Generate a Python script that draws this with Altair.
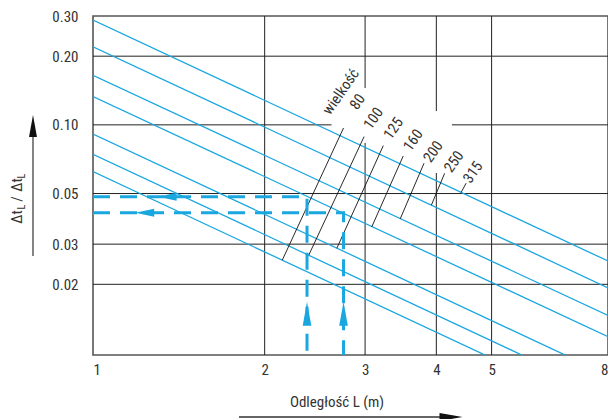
import altair as alt
import pandas as pd

FONT = "Liberation Sans Narrow, Roboto Condensed, Liberation Sans, sans-serif"
CYAN = "#1aa7e0"
TXT = "#333333"

# ---- data ----
sizes = ["315", "250", "200", "160", "125", "100", "80"]
ratio_at_1m = [0.288, 0.220, 0.165, 0.133, 0.0912, 0.0743, 0.0624]
ratio_at_8m = [0.0253, 0.0193, 0.0146, 0.0118, 0.0080, 0.00652, 0.00548]
dist_ends = [1, 8]

x_ticks = [1, 2, 3, 4, 5, 8]
y_ticks = [0.02, 0.03, 0.05, 0.1, 0.2, 0.3]

label_x = [4.634, 4.293, 3.947, 3.642, 3.361, 3.101, 2.909]
label_y = [0.0620, 0.0690, 0.0763, 0.0858, 0.0966, 0.1069, 0.1263]
leader_x1 = [4.511, 4.136, 3.806, 3.499, 3.229, 2.988, 2.750]
leader_y1 = [0.0555, 0.0613, 0.0679, 0.0730, 0.0811, 0.0888, 0.0969]
leader_x2 = [4.422, 3.921, 3.457, 3.082, 2.677, 2.389, 2.147]
leader_y2 = [0.0506, 0.0445, 0.0387, 0.0357, 0.0288, 0.0268, 0.0255]

title_word = "wielkość"
title_word_x = 2.72
title_word_y = 0.1398

# gridlines (with the gaps around the size labels)
h_grid_y = [0.02, 0.03, 0.05, 0.1, 0.1, 0.2]
h_grid_x1 = [1, 1, 1, 1, 4.26, 1]
h_grid_x2 = [8, 8, 8, 2.62, 8, 8]
v_grid_x = [2, 3, 3, 4, 4, 5]
v_grid_y1 = [0.0098, 0.0098, 0.145, 0.0098, 0.1149, 0.0098]
v_grid_y2 = [0.3, 0.0833, 0.3, 0.0615, 0.3, 0.3]

# dashed reading example
ex_names = ["a", "a", "a", "b", "b", "b"]
ex_order = [0, 1, 2, 0, 1, 2]
ex_x = [1, 2.373, 2.373, 1, 2.75, 2.75]
ex_y = [0.0484, 0.0484, 0.0098, 0.0412, 0.0412, 0.0098]
left_arrow_x = [1.349, 1.232]
left_arrow_y = [0.0484, 0.0412]
up_arrow_x = [2.373, 2.75]
up_arrow_y = [0.01485, 0.01485]

# ---- tables ----
rows = []
for s, a, b in zip(sizes, ratio_at_1m, ratio_at_8m):
    rows.append({"size": s, "x": dist_ends[0], "y": a})
    rows.append({"size": s, "x": dist_ends[1], "y": b})
lines_df = pd.DataFrame(rows)
labels_df = pd.DataFrame({"size": sizes, "x": label_x, "y": label_y})
leader_df = pd.DataFrame({"x": leader_x1, "y": leader_y1, "x2": leader_x2, "y2": leader_y2})
hg_df = pd.DataFrame({"y": h_grid_y, "x": h_grid_x1, "x2": h_grid_x2})
vg_df = pd.DataFrame({"x": v_grid_x, "y": v_grid_y1, "y2": v_grid_y2})
ex_df = pd.DataFrame({"n": ex_names, "o": ex_order, "x": ex_x, "y": ex_y})
la_df = pd.DataFrame({"x": left_arrow_x, "y": left_arrow_y})
ua_df = pd.DataFrame({"x": up_arrow_x, "y": up_arrow_y})
word_df = pd.DataFrame({"t": [title_word], "x": [title_word_x], "y": [title_word_y]})
one = pd.DataFrame({"a": [0]})

xs = alt.Scale(type="log", domain=[1, 8], nice=False)
ys = alt.Scale(type="log", domain=[0.0098, 0.3], nice=False)
XAX = alt.Axis(values=x_ticks, format="~g", title=None, labelPadding=7, labelFlush=True)
YAX = alt.Axis(values=y_ticks, format=".2f", title=None, labelPadding=15)


def X(f="x"):
    return alt.X(f"{f}:Q", scale=xs, axis=XAX)


def Y(f="y"):
    return alt.Y(f"{f}:Q", scale=ys, axis=YAX)


hgrid = alt.Chart(hg_df).mark_rule(color="#222222", strokeWidth=1).encode(
    x=X(), x2="x2:Q", y=Y())
vgrid = alt.Chart(vg_df).mark_rule(color="#222222", strokeWidth=1).encode(
    x=X(), y=Y(), y2="y2:Q")
lines = alt.Chart(lines_df).mark_line(color=CYAN, strokeWidth=1.3, clip=True).encode(
    x=X(), y=Y(), detail="size:N")
leaders = alt.Chart(leader_df).mark_rule(color="#111111", strokeWidth=0.9).encode(
    x=X(), x2="x2:Q", y=Y(), y2="y2:Q")
labels = alt.Chart(labels_df).mark_text(angle=305, font=FONT, fontSize=15, color=TXT,
                                        align="center", baseline="middle").encode(
    x=X(), y=Y(), text="size:N")
word = alt.Chart(word_df).mark_text(angle=305, font=FONT, fontSize=15, color=TXT,
                                    align="center", baseline="middle").encode(
    x=X(), y=Y(), text="t:N")
example = alt.Chart(ex_df).mark_line(color=CYAN, strokeWidth=3, strokeDash=[17, 10]).encode(
    x=X(), y=Y(), detail="n:N", order="o:Q")
left_heads = alt.Chart(la_df).mark_point(shape="M-1,0L1,-0.42L1,0.42Z", size=361, filled=True,
                                         color=CYAN, opacity=1, strokeWidth=0).encode(
    x=X(), y=Y())
up_heads = alt.Chart(ua_df).mark_point(shape="M0,-1L0.36,1L-0.36,1Z", size=576, filled=True,
                                       color=CYAN, opacity=1, strokeWidth=0).encode(
    x=X(), y=Y())

# axis titles and arrows (annotations outside the plot area)
x_title = alt.Chart(one).mark_text(font=FONT, fontSize=15, color=TXT, align="center",
                                   baseline="middle").encode(
    x=alt.value(244), y=alt.value(386), text=alt.value("Odległość L (m)"))
x_arrow = alt.Chart(one).mark_rule(color="#666666", strokeWidth=2).encode(
    x=alt.value(146), x2=alt.value(350), y=alt.value(401))
x_head = alt.Chart(one).mark_point(shape="M1,0L-1,-0.35L-1,0.35Z", size=529, filled=True,
                                   color="#111111", opacity=1, strokeWidth=0).encode(
    x=alt.value(358), y=alt.value(401))
y_arrow = alt.Chart(one).mark_rule(color="#666666", strokeWidth=1.6).encode(
    x=alt.value(-60), y=alt.value(118), y2=alt.value(240))
y_head = alt.Chart(one).mark_point(shape="M0,-1L0.36,1L-0.36,1Z", size=484, filled=True,
                                   color="#111111", opacity=1, strokeWidth=0).encode(
    x=alt.value(-60), y=alt.value(110))


def ytxt(t, x, y, fs):
    return alt.Chart(one).mark_text(font=FONT, fontSize=fs, color=TXT, angle=270,
                                    align="center", baseline="middle").encode(
        x=alt.value(x), y=alt.value(y), text=alt.value(t))


y_title = [
    ytxt("Δt", -76, 201, 15),
    ytxt("L", -71, 191, 10),
    ytxt("/", -76, 183, 15),
    ytxt("Δt", -76, 169, 15),
    ytxt("L", -71, 160, 10),
]

chart = alt.layer(
    hgrid, vgrid, lines, leaders, labels, word, example, left_heads, up_heads,
    x_title, x_arrow, x_head, y_arrow, y_head, *y_title
).properties(
    width=515, height=339,
    autosize=alt.AutoSizeParams(type="none"),
    padding={"left": 85, "top": 8, "right": 0, "bottom": 64},
).configure_view(
    stroke="#555555", strokeWidth=1.6
).configure_axis(
    labelFont=FONT, labelFontSize=15, labelColor=TXT, ticks=False, domain=False, grid=False,
    labelOverlap=False
)

chart.save("out.html", embed_options={"renderer": "svg", "actions": False})
